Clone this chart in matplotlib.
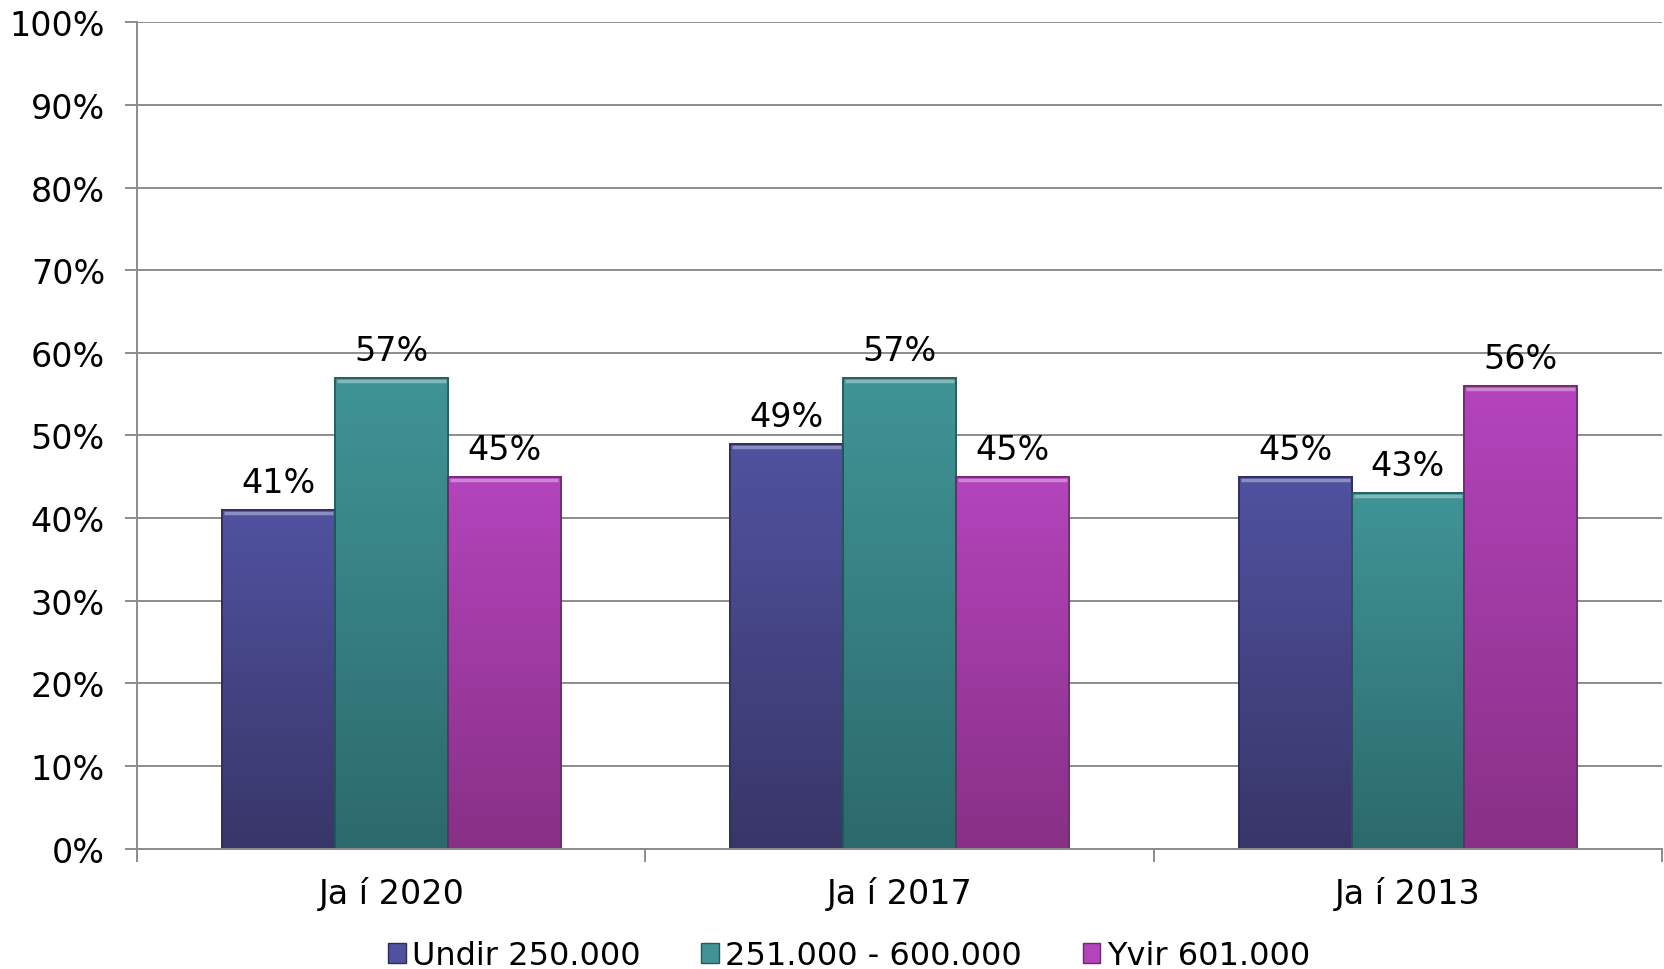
import numpy as np
import matplotlib
matplotlib.use("Agg")
import matplotlib.pyplot as plt
from matplotlib.colors import LinearSegmentedColormap
from matplotlib.patches import Patch

categories = ['Ja í 2020', 'Ja í 2017', 'Ja í 2013']
series = ['Undir 250.000', '251.000 - 600.000', 'Yvir 601.000']
undir = [41, 49, 45]
midal = [57, 57, 43]
yvir = [45, 45, 56]
values = [undir, midal, yvir]

# top colour, bottom colour for each series
shades = [('#5052a0', '#383668'), ('#409496', '#2c6a6c'), ('#b444bc', '#883086')]
edges = ['#2e2c58', '#245a5c', '#6e2870']

plt.rcParams['font.family'] = ['DejaVu Sans']
fig = plt.figure(figsize=(16.65, 9.7), dpi=100)
ax = fig.add_axes([0.0823, 0.1242, 0.916, 0.8517])

x = np.arange(len(categories))
w = 0.222
ax.set_xlim(-0.5, 2.5)
ax.set_ylim(0, 100)

for i, vals in enumerate(values):
    cmap = LinearSegmentedColormap.from_list('g%d' % i, [shades[i][1], shades[i][0]])
    bars = ax.bar(x + (i - 1) * w, vals, w, color=shades[i][0], edgecolor=edges[i],
                  linewidth=1.2, zorder=3)
    for b, v in zip(bars, vals):
        x0 = b.get_x()
        grad = np.linspace(0, 1, 256).reshape(-1, 1)
        im = ax.imshow(grad, cmap=cmap, origin='lower', aspect='auto',
                       extent=[x0, x0 + b.get_width(), 0, b.get_height()], zorder=3.5)
        im.set_clip_path(b)
        # light bevel along the top
        ax.plot([x0 + 0.004, x0 + b.get_width() - 0.004], [v - 0.35, v - 0.35],
                color='white', alpha=0.35, lw=2.5, zorder=4, solid_capstyle='butt')
        ax.bar(b.get_x() + b.get_width() / 2, v, b.get_width(), fill=False,
               edgecolor=edges[i], linewidth=1.2, zorder=4.5)
        ax.annotate('%d%%' % v, (b.get_x() + b.get_width() / 2, v),
                    xytext=(0, 8), textcoords='offset points', ha='center', va='bottom',
                    fontsize=24, zorder=5)

ax.set_yticks(np.arange(0, 101, 10))
ax.set_yticklabels(['%d%%' % t for t in range(0, 101, 10)], fontsize=24)
ax.yaxis.grid(True, color='#8c8c8c', lw=1.4, zorder=1)
ax.set_axisbelow(True)
ax.tick_params(axis='y', length=9, width=1.4, color='#8c8c8c', pad=14)

ax.set_xticks(x)
ax.set_xticklabels(categories, fontsize=24)
ax.tick_params(axis='x', which='major', length=0, pad=20)
ax.set_xticks([-0.5, 0.5, 1.5, 2.5], minor=True)
ax.tick_params(axis='x', which='minor', length=9, width=1.4, color='#8c8c8c')

for s in ['top', 'right']:
    ax.spines[s].set_visible(False)
for s in ['left', 'bottom']:
    ax.spines[s].set_color('#8c8c8c')
    ax.spines[s].set_linewidth(1.4)
    ax.spines[s].set_zorder(6)

handles = [Patch(facecolor=shades[i][0], edgecolor=edges[i]) for i in range(3)]
fig.legend(handles, series, loc='lower center', bbox_to_anchor=(0.51, -0.032), ncol=3,
           frameon=False, fontsize=23, handlelength=0.55, handleheight=0.55,
           handletextpad=0.2, columnspacing=1.9)

fig.savefig('out.png', dpi=100)
